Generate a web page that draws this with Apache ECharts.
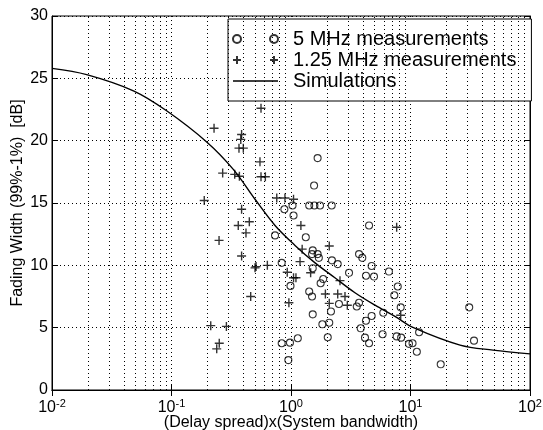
<!DOCTYPE html>
<html>
<head>
<meta charset="utf-8">
<script src="https://cdn.jsdelivr.net/npm/echarts@6/dist/echarts.min.js"></script>
<style>
html,body{margin:0;padding:0;background:#fff;}
#c{width:543px;height:430px;}
</style>
</head>
<body>
<div id="c"></div>
<script>
// ---- data ----
const circleX = [0.735,0.836,0.99,0.836,0.98,0.95,1.67,1.56,1.42,1.57,1.75,2.19,0.88,1.03,1.05,4.5,1.33,1.52,1.50,1.67,1.71,2.2,2.46,1.52,3.06,3.71,3.95,4.73,4.24,4.95,6.6,1.86,1.77,1.42,1.5,2.52,2.16,3.71,3.55,1.52,4.73,4.24,5.92,2.09,1.83,3.83,5.84,4.16,2.03,4.5,1.14,7.82,7.32,8.28,7.66,8.35,11.8,9.71,10.4,11.3,17.9,31.0,34.0];
const circleY = [12.4,10.2,8.35,3.75,3.8,2.4,18.6,16.4,14.8,14.8,14.8,14.8,14.5,14.8,14.0,13.2,12.25,11.2,10.9,10.9,10.6,10.4,10.1,9.77,9.4,10.9,10.6,9.95,9.17,9.1,9.5,8.9,8.56,7.9,7.5,6.9,6.3,7.0,6.7,6.07,5.94,5.56,6.2,5.4,5.27,4.95,4.47,4.2,4.23,3.75,4.15,8.3,7.6,6.63,4.3,4.2,4.63,3.7,3.75,3.07,2.06,6.63,3.96];
const plusX = [0.561,0.227,0.386,0.38,0.367,0.399,0.55,0.268,0.338,0.37,0.561,0.61,0.188,0.76,0.89,1.05,0.386,0.448,0.362,0.42,0.25,0.386,0.51,0.50,0.634,0.93,1.05,1.10,0.46,0.96,0.213,0.288,0.251,0.239,1.21,1.24,2.09,1.19,1.46,2.57,1.94,2.46,2.83,2.09,2.96,7.66,8.28];
const plusY = [22.6,21.0,20.5,20.1,19.4,19.4,18.3,17.4,17.3,17.15,17.1,17.1,15.2,15.4,15.4,15.3,14.5,13.5,13.2,12.6,12.0,10.75,9.9,9.8,10.0,9.45,9.0,9.0,7.5,7.0,5.16,5.1,3.75,3.3,13.2,11.3,11.55,10.3,9.4,8.77,7.7,7.7,7.5,6.95,6.8,13.05,6.0];
const simX = [0.01,0.0195,0.048,0.091,0.197,0.329,0.5,0.735,1.08,1.59,2.33,3.43,5.05,7.41,10.6,26,49,100];
const simY = [25.8,25.3,24.0,22.4,19.9,17.7,15.3,13.2,11.6,10.2,9.0,7.8,6.8,5.9,5.0,3.6,3.2,2.9];
const seriesNames = ['5 MHz measurements','1.25 MHz measurements','Simulations'];
const xTicks = [0.01,0.1,1,10,100];
const xTickExp = ['-2','-1','0','1','2'];
const yTicks = [0,5,10,15,20,25,30];
const xAxisTitle = '(Delay spread)x(System bandwidth)';
const yAxisTitle = 'Fading Width (99%-1%)  [dB]';

// minor grid positions (2..9 x each decade)
const minorX = [];
for (let d = -2; d < 2; d++) for (let m = 2; m <= 9; m++) minorX.push(m * Math.pow(10, d));

const FONT = '"Liberation Sans", Arial, Helvetica, sans-serif';
const dotted = {color:'#000', width:1, type:[1,3]};

const chart = echarts.init(document.getElementById('c'), null, {renderer:'canvas'});
const circleIcon = 'path://M4,0A4,4,0,1,1,4,8A4,4,0,1,1,4,0ZM41,0A4,4,0,1,1,41,8A4,4,0,1,1,41,0Z';
const plusIcon = 'path://M0,4L8,4M4,0L4,8M37,4L45,4M41,0L41,8';
const lineIcon = 'path://M0,0M0,4L45,4M45,8';

chart.setOption({
  animation:false,
  backgroundColor:'#fff',
  textStyle:{fontFamily:FONT},
  grid:{left:52,right:13,top:16,bottom:40,outerBoundsMode:'none',containLabel:false,show:true,borderColor:'#000',borderWidth:1,backgroundColor:'transparent'},
  legend:{
    orient:'vertical', left:228, top:19,
    padding:[10,15,10,4], itemGap:1,
    itemWidth:45, itemHeight:8,
    backgroundColor:'#fff', borderColor:'#000', borderWidth:1,
    textStyle:{fontSize:20, color:'#000', fontFamily:FONT, padding:[0,0,0,10], lineHeight:20},
    data:[
      {name:seriesNames[0], icon:circleIcon},
      {name:seriesNames[1], icon:plusIcon},
      {name:seriesNames[2], icon:lineIcon, itemStyle:{color:'#000', borderColor:'#000', borderWidth:1.4}}
    ]
  },
  xAxis:[{
    type:'log', logBase:10, min:xTicks[0], max:xTicks[xTicks.length-1],
    name:xAxisTitle, nameLocation:'middle', nameGap:25, nameMoveOverlap:false,
    nameTextStyle:{fontSize:16, color:'#000', fontFamily:FONT},
    axisLine:{lineStyle:{color:'#000',width:1}},
    axisTick:{inside:true, length:6, lineStyle:{color:'#000'}},
    minorTick:{show:false},
    splitLine:{show:true, lineStyle:dotted},
    axisLabel:{
      margin:8, color:'#000',
      formatter:function(v){
        const i = xTicks.findIndex(t => Math.abs(Math.log10(t) - Math.log10(v)) < 1e-6);
        return i < 0 ? '' : '{b|10}{s|' + xTickExp[i] + '}';
      },
      rich:{
        b:{fontSize:16, color:'#000', fontFamily:FONT},
        s:{fontSize:11, color:'#000', fontFamily:FONT, padding:[0,0,9,0]}
      }
    }
  },{
    type:'log', logBase:10, min:xTicks[0], max:xTicks[xTicks.length-1], position:'top',
    axisLine:{lineStyle:{color:'#000',width:1}},
    axisTick:{inside:true, length:6, lineStyle:{color:'#000'}},
    axisLabel:{show:false}, splitLine:{show:false}
  }],
  yAxis:[{
    type:'value', min:yTicks[0], max:yTicks[yTicks.length-1], interval:5,
    name:yAxisTitle, nameLocation:'middle', nameGap:26, nameMoveOverlap:false,
    nameTextStyle:{fontSize:16, color:'#000', fontFamily:FONT},
    axisLine:{show:true, lineStyle:{color:'#000',width:1}},
    axisTick:{show:true, inside:true, length:6, lineStyle:{color:'#000'}},
    splitLine:{show:true, lineStyle:dotted},
    axisLabel:{fontSize:16, color:'#000', margin:4, fontFamily:FONT}
  },{
    type:'value', min:yTicks[0], max:yTicks[yTicks.length-1], interval:5, position:'right',
    axisLine:{show:true, lineStyle:{color:'#000',width:1}},
    axisTick:{show:true, inside:true, length:6, lineStyle:{color:'#000'}},
    axisLabel:{show:false}, splitLine:{show:false}
  }],
  series:[
    {
      name:'minorGrid', type:'line', data:[], z:1, silent:true,
      markLine:{
        silent:true, symbol:['none','none'], label:{show:false},
        lineStyle:dotted, animation:false,
        data:minorX.map(v => ({xAxis:v}))
      }
    },
    {
      name:seriesNames[0], type:'scatter', z:3,
      symbol:'circle', symbolSize:7,
      itemStyle:{color:'rgba(0,0,0,0)', borderColor:'#000', borderWidth:1.1},
      data:circleX.map((x,i) => [x, circleY[i]])
    },
    {
      name:seriesNames[1], type:'scatter', z:3,
      symbol:'path://M0,5L10,5M5,0L5,10', symbolSize:9,
      itemStyle:{color:'#000', borderColor:'#000', borderWidth:1.4},
      data:plusX.map((x,i) => [x, plusY[i]])
    },
    {
      name:seriesNames[2], type:'line', z:4, smooth:0.35, symbol:'none', showSymbol:false,
      lineStyle:{color:'#000', width:1.4}, itemStyle:{color:'#000', borderColor:'#000', borderWidth:1.4},
      data:simX.map((x,i) => [x, simY[i]])
    }
  ]
});
</script>
</body>
</html>
